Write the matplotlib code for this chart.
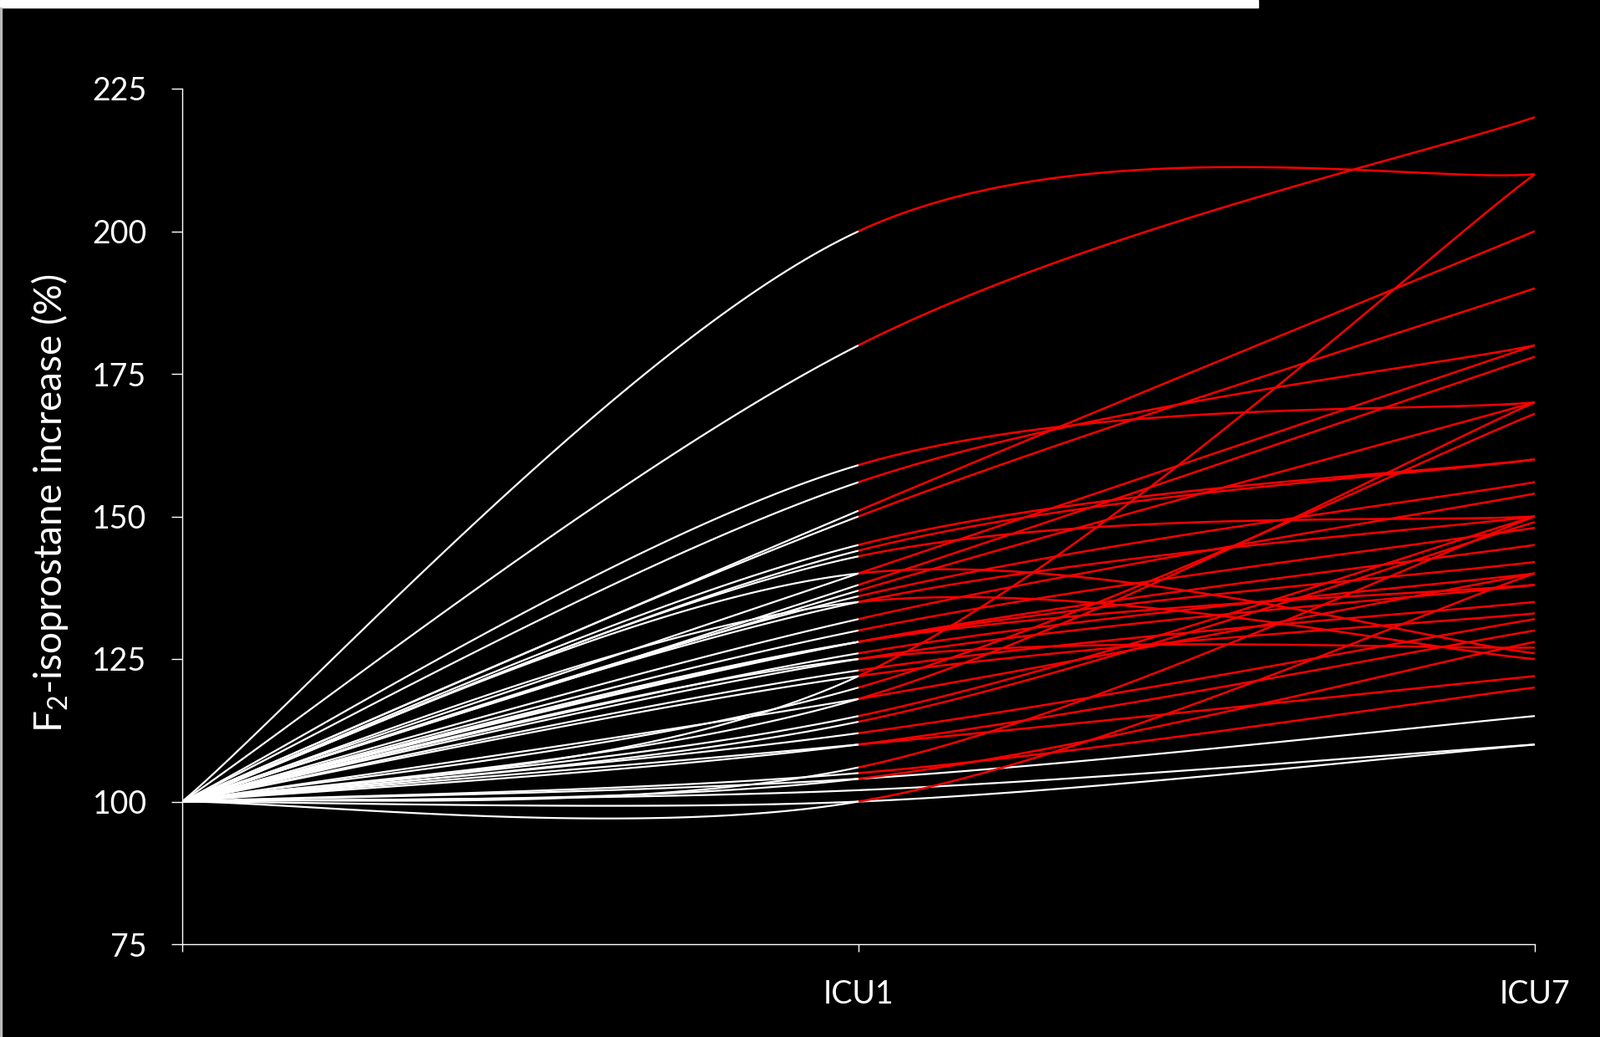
import numpy as np
import matplotlib
matplotlib.use('Agg')
import matplotlib.pyplot as plt
from matplotlib.patches import Rectangle

plt.rcParams['font.family'] = ['Lato', 'DejaVu Sans']
plt.rcParams['mathtext.fontset'] = 'custom'
plt.rcParams['mathtext.rm'] = 'Lato'

# time points (baseline has no label)
timepoints = ['', 'ICU1', 'ICU7']
baseline = 100

# each patient: % of baseline at ICU1 and ICU7
icu1 = [200, 180, 159, 156, 151, 150, 145, 144, 143, 140, 140, 138, 137, 136,
        135, 135, 132, 130, 128, 128, 128, 126, 125, 125, 123, 122, 120, 122,
        118, 118, 115, 114, 112, 110, 110, 106, 105, 104, 104, 102, 100, 100]
icu7 = [210, 220, 170, 180, 200, 190, 160, 160, 150, 180, 126, 178, 170, 156,
        150, 125, 154, 148, 145, 138, 142, 140, 138, 127, 135, 133, 168, 210,
        170, 140, 150, 149, 132, 130, 122, 150, 120, 128, 115, 110, 140, 110]

red_from = 120  # ICU7 segment drawn red at/above this value


def smooth(xs, ys, n=80):
    # excel-like smoothed line: bezier with 1/6 catmull-rom control points
    pts = np.column_stack([xs, ys]).astype(float)
    segs = []
    t = np.linspace(0, 1, n)[:, None]
    for i in range(len(pts) - 1):
        p0 = pts[max(i - 1, 0)]
        p1 = pts[i]
        p2 = pts[i + 1]
        p3 = pts[min(i + 2, len(pts) - 1)]
        c1 = p1 + (p2 - p0) / 6
        c2 = p2 - (p3 - p1) / 6
        seg = (1 - t)**3 * p1 + 3 * (1 - t)**2 * t * c1 + 3 * (1 - t) * t**2 * c2 + t**3 * p2
        segs.append(seg)
    return segs


fig = plt.figure(figsize=(19.15, 12.4), dpi=100, facecolor='black')
ax = fig.add_axes([218 / 1915, 1 - 1129 / 1240, (1836 - 218) / 1915, (1129 - 106) / 1240])
ax.set_facecolor('black')

x = np.arange(len(timepoints))
curves = [smooth(x, [baseline, a, b]) for a, b in zip(icu1, icu7)]

for segs in curves:
    ax.plot(segs[0][:, 0], segs[0][:, 1], color='white', lw=1.6, solid_capstyle='butt', zorder=2)
for segs, b in zip(curves, icu7):
    if b < red_from:
        ax.plot(segs[1][:, 0], segs[1][:, 1], color='white', lw=1.6, solid_capstyle='butt', zorder=2)
for segs, b in zip(curves, icu7):
    if b >= red_from:
        ax.plot(segs[1][:, 0], segs[1][:, 1], color='#ff0000', lw=1.8, solid_capstyle='butt', zorder=3)

ax.set_xlim(0, 2)
ax.set_ylim(75, 225)
ax.set_yticks(np.arange(75, 226, 25))
ax.set_xticks(x)
ax.set_xticklabels(timepoints)

for s in ['top', 'right']:
    ax.spines[s].set_visible(False)
for s in ['left', 'bottom']:
    ax.spines[s].set_color('white')
    ax.spines[s].set_linewidth(1.0)

ax.tick_params(axis='y', colors='white', direction='out', length=9.5, width=1.0,
               pad=21, labelsize=27)
ax.tick_params(axis='x', colors='white', direction='out', length=6.5, width=1.0,
               pad=24, labelsize=27)

ax.set_ylabel(r'F$_{\mathrm{2}}$-isoprostane increase (%)', color='white',
              fontsize=33, va='center')
ax.yaxis.set_label_coords(-0.0977, 0.515)

# white strip along the top and thin border at the left edge
fig.patches.append(Rectangle((0, 1 - 9 / 1240), 1505 / 1915, 9 / 1240,
                             transform=fig.transFigure, color='white', zorder=5))
fig.patches.append(Rectangle((0, 0), 2 / 1915, 1 - 9 / 1240,
                             transform=fig.transFigure, color='#bbbbbb', zorder=5))

fig.savefig('out.png', dpi=100, facecolor='black')
